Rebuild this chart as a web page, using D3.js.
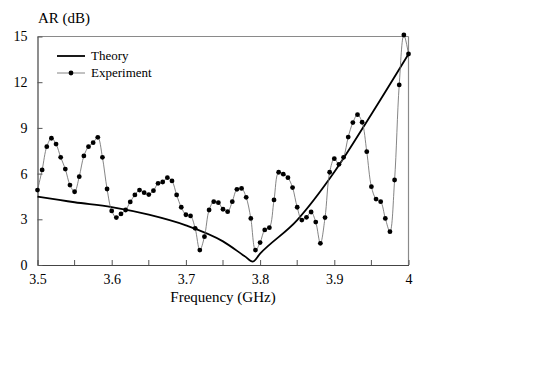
<!DOCTYPE html>
<html><head><meta charset="utf-8">
<script src="https://cdn.jsdelivr.net/npm/d3@7/dist/d3.min.js"></script>
<style>body{margin:0;background:#fff;} svg{display:block;} svg text{font-family:'Liberation Serif',Tinos,'Times New Roman',Times,'DejaVu Serif',serif !important;fill:#000;}</style>
</head><body><svg id="c" width="544" height="365"></svg>
<script>
const expStart = 3.5, expStep = 0.00625;
const expValues = [4.92,6.24,7.77,8.32,7.94,7.07,6.30,5.25,4.81,5.80,
 7.16,7.77,8.03,8.38,7.07,4.99,3.55,3.11,3.35,3.61,
 4.14,4.60,4.92,4.75,4.62,4.88,5.36,5.45,5.73,5.52,
 4.60,3.79,3.30,3.22,2.41,0.98,1.86,3.61,4.16,4.09,
 3.66,3.50,4.16,4.97,5.03,4.44,3.06,0.98,1.47,2.30,
 2.45,4.27,6.09,5.96,5.73,5.08,3.79,2.95,3.13,3.48,
 2.82,1.42,3.11,6.09,6.98,6.61,7.07,8.40,9.35,9.87,
 9.37,7.44,5.14,4.33,4.16,3.06,2.19,5.58,11.82,15.1,13.85];
const theoryFreq = [3.50,3.55,3.60,3.65,3.70,3.75,3.78,3.79,3.80,3.85,3.90,3.95,4.00];
const theoryValues = [4.49,4.12,3.80,3.30,2.60,1.55,0.55,0.22,0.75,2.95,6.10,9.90,13.85];
const xTicks = [3.5,3.6,3.7,3.8,3.9,4.0];
const xMinorTicks = [3.55,3.65,3.75,3.85,3.95];
const yTicks = [0,3,6,9,12,15];
const legendLabels = ["Theory","Experiment"];

const svg = d3.select("#c");
const L=37.5, R=408.5, T=36.5, B=265;
const x = d3.scaleLinear().domain([3.5,4.0]).range([L,R]);
const y = d3.scaleLinear().domain([0,15]).range([B,T]);

svg.append("line").attr("x1",L).attr("x2",R).attr("y1",T).attr("y2",T).attr("stroke","#8a8a8a").attr("stroke-width",1.2);
svg.append("line").attr("x1",R).attr("x2",R).attr("y1",T).attr("y2",B).attr("stroke","#8a8a8a").attr("stroke-width",1.2);

const xAxis = svg.append("g").attr("transform",`translate(0,${B})`)
  .call(d3.axisBottom(x).tickValues(xTicks).tickSizeInner(-5).tickSizeOuter(0).tickPadding(9).tickFormat(d=>d===4?"4":d3.format(".1f")(d)));
xAxis.selectAll("line.minor").data(xMinorTicks).enter().append("line").attr("class","minor")
  .attr("x1",d=>x(d)).attr("x2",d=>x(d)).attr("y1",0).attr("y2",-5).attr("stroke","#555");
const yAxis = svg.append("g").attr("transform",`translate(${L},0)`)
  .call(d3.axisLeft(y).tickValues(yTicks).tickSizeInner(-5).tickSizeOuter(0).tickPadding(9));
[xAxis,yAxis].forEach(g=>{
  g.attr("font-family",null);
  g.select(".domain").attr("stroke","#444").attr("stroke-width",1.2);
  g.selectAll(".tick line").attr("stroke","#555");
  g.selectAll("text").style("font-size","14px").attr("fill","#000");
});
yAxis.selectAll(".tick text").attr("dx","-1px");

const tData = theoryFreq.map((f,i)=>[f,theoryValues[i]]);
svg.append("path").datum(tData)
  .attr("d",d3.line().x(d=>x(d[0])).y(d=>y(d[1])).curve(d3.curveMonotoneX))
  .attr("fill","none").attr("stroke","#000").attr("stroke-width",1.8);

const eData = expValues.map((v,i)=>[expStart+i*expStep,v]);
svg.append("path").datum(eData)
  .attr("d",d3.line().x(d=>x(d[0])).y(d=>y(d[1])).curve(d3.curveCatmullRom))
  .attr("fill","none").attr("stroke","#666").attr("stroke-width",0.8);
svg.selectAll("circle.e").data(eData).enter().append("circle").attr("class","e")
  .attr("cx",d=>x(d[0])).attr("cy",d=>y(d[1])).attr("r",2.4).attr("fill","#000");

const lg = svg.append("g");
lg.append("line").attr("x1",57).attr("x2",85).attr("y1",56).attr("y2",56).attr("stroke","#000").attr("stroke-width",1.8);
lg.append("line").attr("x1",57).attr("x2",85).attr("y1",73).attr("y2",73).attr("stroke","#666").attr("stroke-width",0.8);
lg.append("circle").attr("cx",71).attr("cy",73).attr("r",2.4).attr("fill","#000");
lg.selectAll("text").data(legendLabels).enter().append("text")
  .attr("x",91).attr("y",(d,i)=>60+i*17).style("font-size","13px").text(d=>d);

svg.append("text").attr("x",38).attr("y",23).style("font-size","15px").text("AR (dB)");
svg.append("text").attr("x",(L+R)/2).attr("y",302).attr("text-anchor","middle").style("font-size","15px").text("Frequency (GHz)");
</script></body></html>
